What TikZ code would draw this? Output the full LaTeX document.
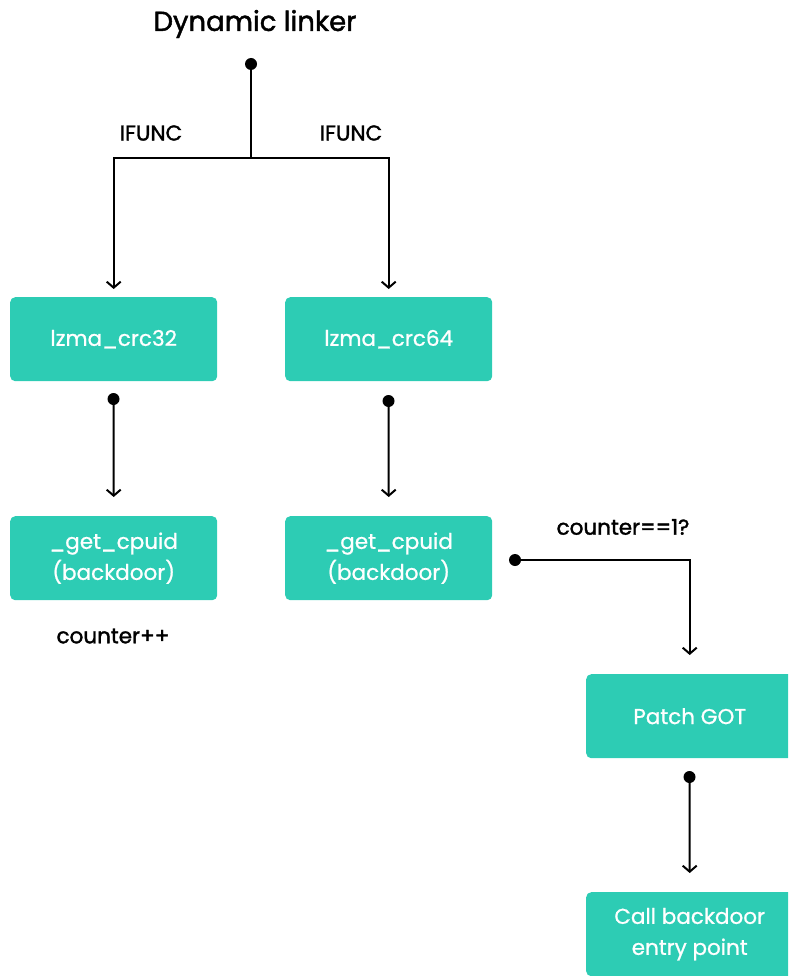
\documentclass[tikz,border=0pt]{standalone}
\usepackage{fontspec}
\setmainfont{Poppins}
\newfontfamily\medfont{Poppins}[FakeBold=1.6]
\newfontfamily\boxfont{Poppins}[FakeBold=0.8]
\usetikzlibrary{arrows.meta}
\definecolor{teal}{RGB}{45,204,180}
\tikzset{
  box/.style={fill=teal, rounded corners=5pt, minimum width=207pt, minimum height=84pt, inner sep=0pt, text=white, font=\boxfont\fontsize{21.5}{31}\selectfont, align=center, anchor=north west},
  lbl/.style={font=\medfont\fontsize{21.5}{25}\selectfont, text=black},
  conn/.style={line width=2pt, -{Straight Barb[length=6pt,width=14pt,line width=2pt]}},
  dot/.style={circle, fill=black, minimum size=12pt, inner sep=0pt},
}
\begin{document}
\begin{tikzpicture}[x=1pt,y=-1pt]
\useasboundingbox (0,0) rectangle (788,976);
\begin{scope}
\clip (0,0) rectangle (788,976);
\node[font=\medfont\fontsize{27.5}{32}\selectfont] (title) at (255,24) {Dynamic linker};
\node[dot] (d0) at (251,64) {};
\node[box] (c32) at (10,297) {lzma\_crc32};
\node[box] (c64) at (285,297) {lzma\_crc64};
\node[box] (g32) at (10,516) {\_get\_cpuid\\(backdoor)};
\node[box] (g64) at (285,516) {\_get\_cpuid\\(backdoor)};
\node[box] (pg) at (586,674) {Patch GOT};
\node[box] (cb) at (586,892) {Call backdoor\\entry point};
\coordinate (split) at (251,158);
\node[dot] (d1) at (113.5,399) {};
\node[dot] (d2) at (388.5,401) {};
\node[dot] (d3) at (515,560) {};
\node[dot] (d4) at (689.5,777) {};
\node[lbl] (if1) at (151,133) {IFUNC};
\node[lbl] (if2) at (351,133) {IFUNC};
\node[lbl] (cnt) at (113,636) {counter++};
\node[lbl] (ceq) at (623,527) {counter==1?};
\draw[line width=2pt] (d0.center) -- (split);
\draw[conn] (split) -| ([yshift=8pt]c32.north);
\draw[conn] (split) -| ([yshift=8pt]c64.north);
\draw[conn] (d1.center) -- ([yshift=19pt]g32.north);
\draw[conn] (d2.center) -- ([yshift=19pt]g64.north);
\draw[conn] (d3.center) -| ([yshift=19pt]pg.north);
\draw[conn] (d4.center) -- ([yshift=19pt]cb.north);
\end{scope}
\end{tikzpicture}
\end{document}
